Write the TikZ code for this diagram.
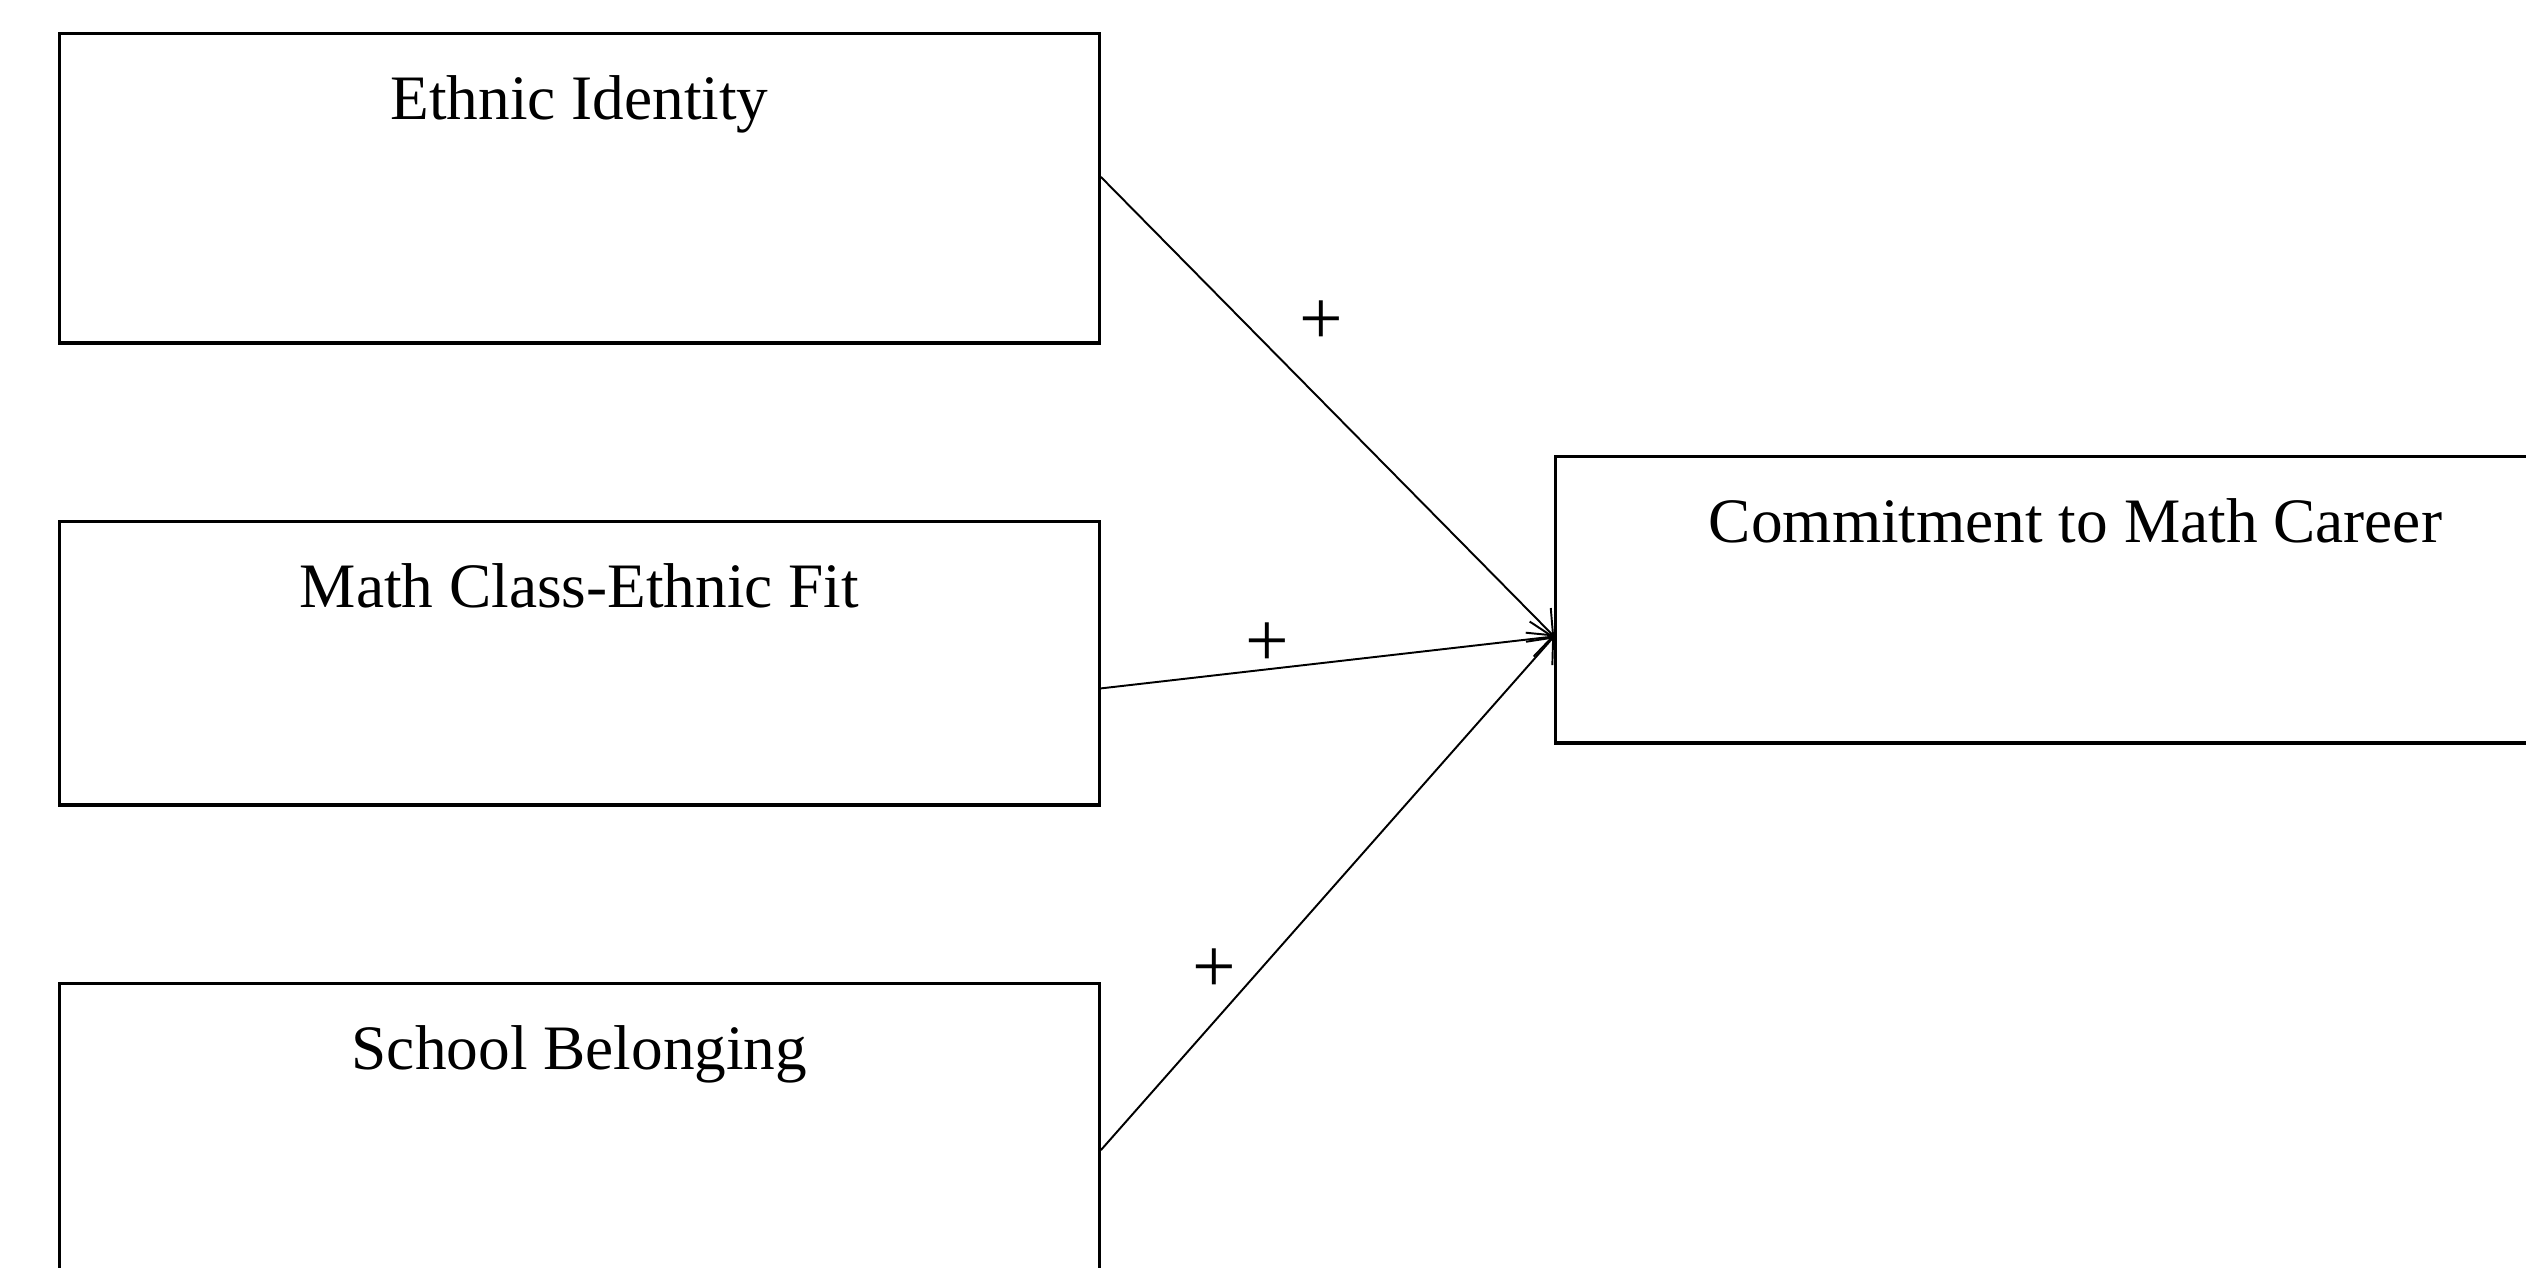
\documentclass[tikz,border=0pt]{standalone}
\usepackage{fontspec}
\setmainfont{Liberation Serif}
\usetikzlibrary{arrows.meta,calc}

\begin{document}
\begin{tikzpicture}[x=0.01cm,y=-0.01cm,
    factor/.style={draw,line width=0.9pt,minimum width=10.39cm,inner sep=0pt},
    path/.style={line width=0.55pt,-{Straight Barb[length=6pt,width=10pt]}},
    sign/.style={font=\fontsize{22}{24}\selectfont,inner sep=0pt}]
  \fontsize{18}{21}\selectfont
  \clip (0,0) rectangle (2526,1268);

  % predictors
  \node[factor,minimum height=3.09cm,
    label={[anchor=north,yshift=-12pt,inner sep=0pt]north:Ethnic Identity}] (ei) at (579.5,188.5) {};
  \node[factor,minimum height=2.83cm,
    label={[anchor=north,yshift=-12pt,inner sep=0pt]north:Math Class-Ethnic Fit}] (fit) at (579.5,663.5) {};
  \node[factor,minimum height=2.90cm,
    label={[anchor=north,yshift=-12pt,inner sep=0pt]north:School Belonging}] (sb) at (579.5,1129) {};

  % outcome
  \node[factor,minimum height=2.86cm,
    label={[anchor=north,yshift=-12pt,inner sep=0pt]north:Commitment to Math Career}] (cmc) at (2075.5,600) {};

  \coordinate (in) at ($(cmc.north west)!0.626!(cmc.south west)$);

  \draw[path] ($(ei.north east)!0.463!(ei.south east)$) -- (in);
  \draw[path] ($(fit.north east)!0.587!(fit.south east)$) -- (in);
  \draw[path] ($(sb.north east)!0.572!(sb.south east)$) -- (in);

  \node[sign] (s1) at (1321,323) {+};
  \node[sign] (s2) at (1267,645) {+};
  \node[sign] (s3) at (1214,971) {+};
\end{tikzpicture}
\end{document}
